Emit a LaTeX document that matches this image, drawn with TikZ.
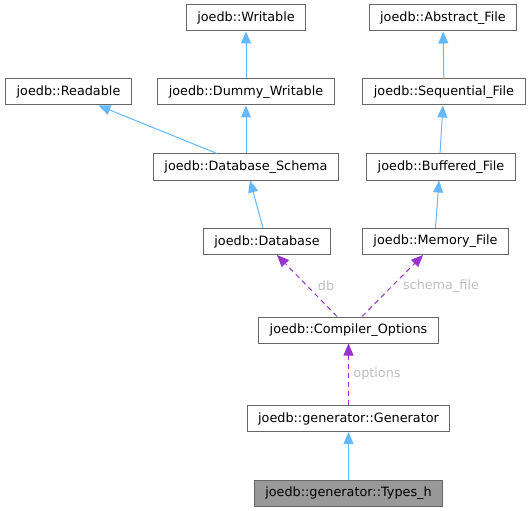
\documentclass[tikz,border=0pt]{standalone}
\usepackage{fontspec}
\setmainfont{DejaVu Sans}
\usetikzlibrary{arrows.meta}
\definecolor{edgeblue}{HTML}{63B8FF}
\definecolor{edgepurple}{HTML}{9A32CD}
\definecolor{boxborder}{HTML}{666666}
\definecolor{labelgrey}{HTML}{BEBEBE}
\definecolor{hlfill}{HTML}{999999}
\begin{document}
\begin{tikzpicture}[x=1pt,y=-1pt,
  cls/.style={draw=boxborder, fill=white, line width=1pt, minimum height=26pt,
    inner xsep=11pt, inner ysep=0pt, font=\fontsize{12.8}{15}\selectfont, text=black},
  hl/.style={cls, fill=hlfill},
  inherit/.style={draw=edgeblue, line width=1pt, -{Triangle[length=12pt,width=10pt]}},
  uses/.style={draw=edgepurple, line width=1pt, dash pattern=on 5pt off 4pt,
    -{Triangle[length=12pt,width=10pt]}},
  elabel/.style={text=labelgrey, font=\fontsize{12.8}{15}\selectfont, inner sep=0pt}
]
\useasboundingbox (0,0) rectangle (531,511);

\node[cls] (writable)   at (246,18)    {joedb::Writable};
\node[cls] (abstract)   at (443,18)    {joedb::Abstract\_File};
\node[cls] (readable)   at (68.5,92)   {joedb::Readable};
\node[cls] (dummy)      at (246,92)    {joedb::Dummy\_Writable};
\node[cls] (sequential) at (444,92)    {joedb::Sequential\_File};
\node[cls] (schema)     at (246,167)   {joedb::Database\_Schema};
\node[cls] (buffered)   at (441,167)   {joedb::Buffered\_File};
\node[cls] (database)   at (267,241.5) {joedb::Database};
\node[cls] (memory)     at (435.5,241.5) {joedb::Memory\_File};
\node[cls] (compiler)   at (348.5,330) {joedb::Compiler\_Options};
\node[cls] (generator)  at (348.5,418.5) {joedb::generator::Generator};
\node[hl]  (types)      at (348.5,493) {joedb::generator::Types\_h};

\draw[inherit] (dummy) -- (writable);
\draw[inherit] (sequential) -- (abstract);
\draw[inherit] (schema) -- (dummy);
\draw[inherit] ([xshift=-29pt]schema.north) -- ([xshift=30pt]readable.south);
\draw[inherit] ([xshift=-1pt]buffered.north) -- ([xshift=-1pt]sequential.south);
\draw[inherit] ([xshift=-4pt]database.north) -- ([xshift=4pt]schema.south);
\draw[inherit] (memory.north) -- ([xshift=-2pt]buffered.south);
\draw[inherit] (types) -- (generator);

\draw[uses] ([xshift=-11.5pt]compiler.north) -- node[elabel, xshift=19pt] (lbdb) {db} ([xshift=10pt]database.south);
\draw[uses] ([xshift=13.5pt]compiler.north) -- node[elabel, xshift=48.5pt] (lbsf) {schema\_file} ([xshift=-12.5pt]memory.south);
\draw[uses] (generator) -- node[elabel, xshift=28.5pt] (lbopt) {options} (compiler);
\end{tikzpicture}
\end{document}
